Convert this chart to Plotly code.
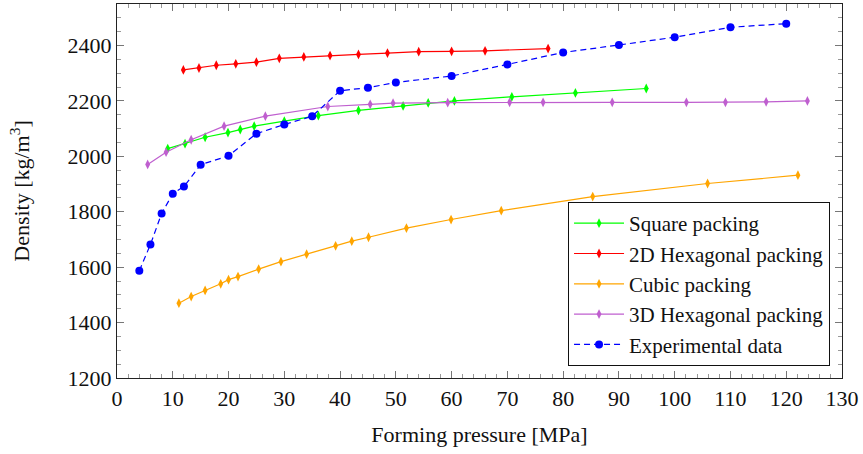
import plotly.graph_objects as go

# Square packing
sq_x = [9.1, 12.2, 15.8, 19.9, 22.1, 24.6, 30.0, 36.1, 43.3, 51.3, 55.8, 60.5, 70.8, 82.2, 94.9]
sq_y = [2028, 2046, 2069, 2086, 2097, 2109, 2127, 2147, 2166, 2182, 2193, 2200, 2215, 2229, 2245]

# 2D Hexagonal packing
hex2_x = [11.9, 14.7, 17.8, 21.3, 25.0, 29.1, 33.5, 38.2, 43.3, 48.5, 54.1, 60.0, 66.0, 77.3]
hex2_y = [2312, 2319, 2329, 2334, 2340, 2354, 2359, 2364, 2368, 2373, 2378, 2379, 2381, 2389]

# Cubic packing
cub_x = [11.1, 13.3, 15.8, 18.6, 20.0, 21.7, 25.4, 29.4, 34.0, 39.2, 42.1, 45.1, 51.9, 59.9, 68.9, 85.3, 105.9, 122.1]
cub_y = [1470, 1494, 1516, 1540, 1555, 1566, 1593, 1620, 1647, 1677, 1694, 1708, 1741, 1772, 1804, 1855, 1902, 1932]

# 3D Hexagonal packing
hex3_x = [5.5, 8.8, 13.3, 19.2, 26.6, 37.8, 45.4, 49.5, 59.3, 70.4, 76.4, 88.8, 102.1, 109.1, 116.4, 123.8]
hex3_y = [1971, 2015, 2060, 2109, 2145, 2180, 2188, 2192, 2194, 2195, 2195, 2195, 2195, 2195, 2197, 2200]

# Experimental data
exp_x = [4, 6, 8, 10, 12, 15, 20, 25, 30, 35, 40, 45, 50, 60, 70, 80, 90, 100, 110, 120]
exp_y = [1587, 1682, 1794, 1865, 1891, 1970, 2002, 2082, 2115, 2145, 2237, 2248, 2267, 2290, 2332, 2375, 2402, 2430, 2466, 2479]

x_ticks = list(range(0, 131, 10))
y_ticks = list(range(1200, 2401, 200))

FONT = "'Liberation Serif', 'Times New Roman', 'DejaVu Serif', serif"
fig = go.Figure()

def packing(x, y, name, color):
    fig.add_trace(go.Scatter(
        x=x, y=y, name=name, mode="lines+markers",
        line=dict(color=color, width=1.2),
        marker=dict(symbol="diamond-tall", size=7, color=color),
    ))

packing(sq_x, sq_y, "Square packing", "#00ff00")
packing(hex2_x, hex2_y, "2D Hexagonal packing", "#ff0000")
packing(cub_x, cub_y, "Cubic packing", "#ffa500")
packing(hex3_x, hex3_y, "3D Hexagonal packing", "#bf5fcf")
fig.add_trace(go.Scatter(
    x=exp_x, y=exp_y, name="Experimental data", mode="lines+markers",
    line=dict(color="#0000ff", width=1.2, dash="6px,4px"),
    marker=dict(symbol="circle", size=8, color="#0000ff"),
))

axis_common = dict(
    showgrid=False, zeroline=False, showline=True, linecolor="#222", linewidth=1.2,
    mirror="allticks", ticks="inside", ticklen=7, tickcolor="#777", tickwidth=1,
    tickfont=dict(family=FONT, size=22, color="#111"),
)
fig.update_xaxes(
    range=[0, 130], tickvals=x_ticks, ticktext=[str(v) for v in x_ticks],
    minor=dict(dtick=2, tick0=0, ticks="inside", ticklen=4, tickcolor="#999", tickwidth=1),
    title=dict(text="Forming pressure [MPa]", font=dict(family=FONT, size=22, color="#111"), standoff=17),
    **axis_common,
)
fig.update_yaxes(
    range=[1200, 2550], tickvals=y_ticks, ticktext=[str(v) for v in y_ticks],
    minor=dict(dtick=50, tick0=1200, ticks="inside", ticklen=4, tickcolor="#999", tickwidth=1),
    title=dict(text="Density [kg/m<sup>3</sup>]", font=dict(family=FONT, size=22, color="#111"), standoff=31),
    **axis_common,
)

fig.update_layout(
    width=863, height=454,
    margin=dict(l=117, r=21, t=4, b=76, autoexpand=False),
    paper_bgcolor="white", plot_bgcolor="white",
    font=dict(family=FONT, size=22, color="#111"),
    legend=dict(
        x=0.9835, y=0.032, xanchor="right", yanchor="bottom",
        bordercolor="#111", borderwidth=1, bgcolor="white",
        font=dict(family=FONT, size=21, color="#111"),
        tracegroupgap=0, itemwidth=50,
    ),
)

fig.write_html("out.html", config={"displayModeBar": False},
               post_script="document.body.style.margin='0px';")
